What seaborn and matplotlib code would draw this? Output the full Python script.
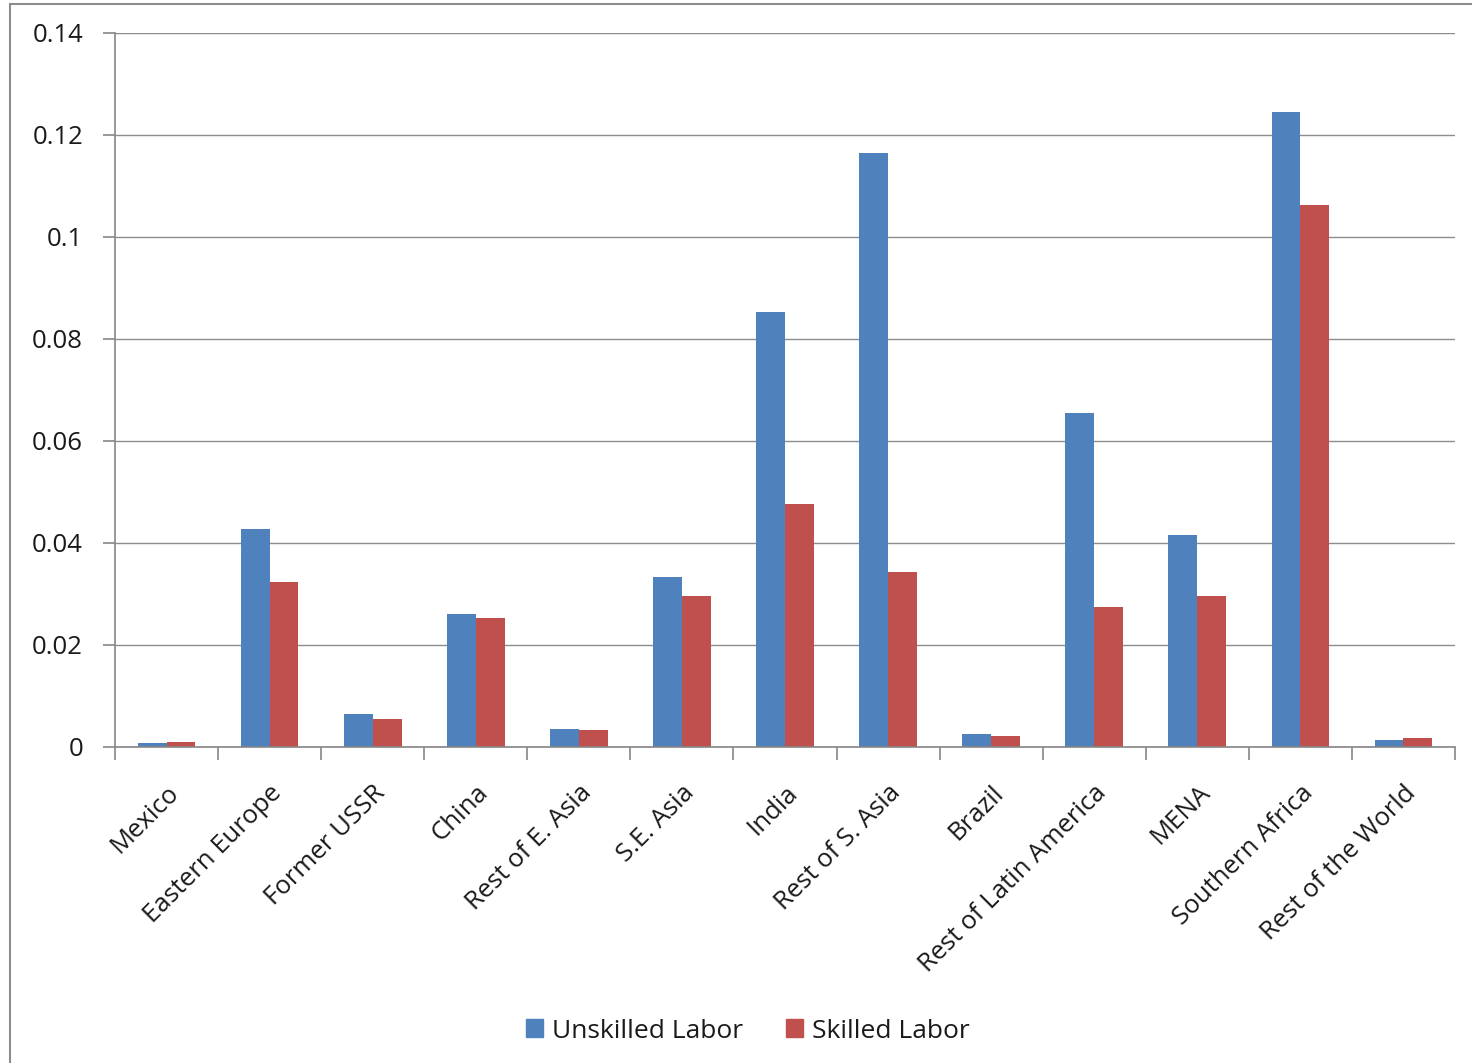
import matplotlib
matplotlib.use("Agg")
import matplotlib.pyplot as plt
from matplotlib.patches import Rectangle
from matplotlib.ticker import FixedLocator, FuncFormatter
import numpy as np
import pandas as pd
import seaborn as sns

regions = ["Mexico", "Eastern Europe", "Former USSR", "China", "Rest of E. Asia",
           "S.E. Asia", "India", "Rest of S. Asia", "Brazil", "Rest of Latin America",
           "MENA", "Southern Africa", "Rest of the World"]
unskilled = [0.0007, 0.0427, 0.0064, 0.0261, 0.0035, 0.0333, 0.0853, 0.1165,
             0.0026, 0.0655, 0.0416, 0.1245, 0.0013]
skilled = [0.0010, 0.0324, 0.0054, 0.0253, 0.0033, 0.0296, 0.0476, 0.0343,
           0.0022, 0.0275, 0.0296, 0.1063, 0.0017]
series_names = ["Unskilled Labor", "Skilled Labor"]
colors = ["#4F81BD", "#C0504D"]

df = pd.DataFrame({
    "region": regions * 2,
    "value": unskilled + skilled,
    "series": [series_names[0]] * len(regions) + [series_names[1]] * len(regions),
})

sns.set_theme(style="white")
plt.rcParams["font.family"] = ["Open Sans", "DejaVu Sans"]

fig = plt.figure(figsize=(14.72, 10.63), dpi=100)
ax = fig.add_axes([115 / 1472, 1 - 747 / 1063, 1340 / 1472, 714 / 1063])

sns.barplot(data=df, x="region", y="value", hue="series", order=regions,
            hue_order=series_names, palette=colors, width=0.56, gap=0,
            saturation=1, edgecolor="none", linewidth=0, ax=ax, legend=False)

ax.set_xlim(-0.5, len(regions) - 0.5)
ax.set_ylim(0, 0.14)
ax.set_yticks(np.arange(0, 0.141, 0.02))
ax.yaxis.set_major_formatter(FuncFormatter(lambda v, p: "0" if abs(v) < 1e-9 else f"{v:g}"))
ax.yaxis.grid(True, color="#8c8c8c", linewidth=1.0)
ax.set_axisbelow(True)
ax.set_xlabel("")
ax.set_ylabel("")

for side in ["top", "right"]:
    ax.spines[side].set_visible(False)
for side in ["left", "bottom"]:
    ax.spines[side].set_color("#868686")
    ax.spines[side].set_linewidth(1.2)

ax.tick_params(axis="y", which="major", left=True, length=9, width=1.2,
               color="#868686", labelsize=18.5, pad=14, labelcolor="#1a1a1a")
ax.set_xticks(range(len(regions)))
ax.set_xticklabels(regions, rotation=45, ha="right", rotation_mode="anchor",
                   fontsize=18.5, color="#1a1a1a")
ax.tick_params(axis="x", which="major", length=0, pad=24)
ax.xaxis.set_minor_locator(FixedLocator(np.arange(-0.5, len(regions), 1.0)))
ax.tick_params(axis="x", which="minor", bottom=True, length=9, width=1.2,
               color="#868686", direction="out")

handles = [Rectangle((0, 0), 1, 1, color=c) for c in colors]
fig.legend(handles, series_names, loc="center", bbox_to_anchor=(0.508, 1 - 1031 / 1063),
           ncol=2, frameon=False, fontsize=19, handlelength=0.65, handleheight=0.65,
           handletextpad=0.35, columnspacing=1.6, labelcolor="#1a1a1a")

# outer chart border
fig.patches.append(Rectangle((10 / 1472, -0.01), 1.2, 1 - 4 / 1063 + 0.01,
                             transform=fig.transFigure, fill=False,
                             edgecolor="#8c8c8c", linewidth=1.5))

fig.savefig("out.png", dpi=100, facecolor="white")
